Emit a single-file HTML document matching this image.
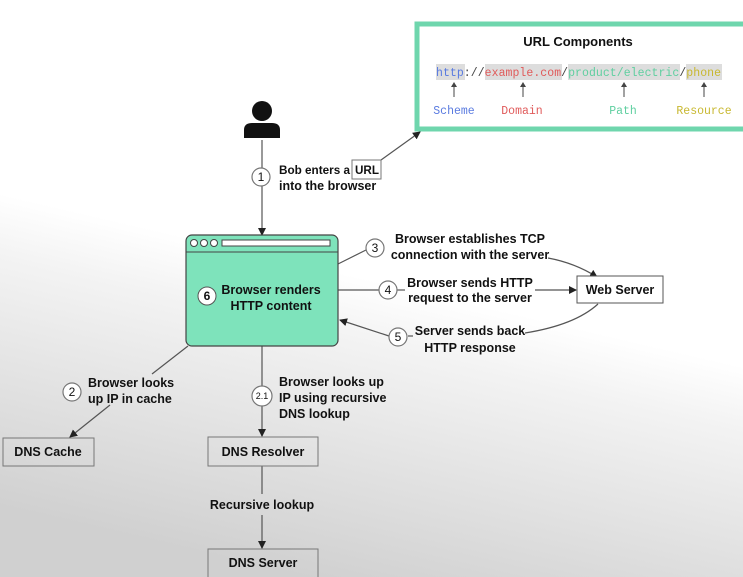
<!DOCTYPE html>
<html><head><meta charset="utf-8"><style>
html,body{margin:0;padding:0;width:743px;height:577px;overflow:hidden}
text{font-family:"Liberation Sans",sans-serif;font-weight:bold;fill:#111}
.m{font-family:"Liberation Mono",monospace;font-weight:normal;font-size:11.5px}
</style></head><body>
<svg width="743" height="577" viewBox="0 0 743 577" xmlns="http://www.w3.org/2000/svg">
<defs>
<linearGradient id="bg" x1="0.55" y1="0.5" x2="0.4" y2="1">
<stop offset="0" stop-color="#ffffff"/><stop offset="0.2" stop-color="#f3f3f3"/><stop offset="1" stop-color="#d0d0d0"/>
</linearGradient>
<marker id="a" markerWidth="8" markerHeight="8" refX="7" refY="4" orient="auto" markerUnits="userSpaceOnUse">
<path d="M0,0 L8,4 L0,8 z" fill="#222"/></marker>
</defs>
<rect width="743" height="577" fill="url(#bg)"/>
<g stroke="#555" stroke-width="1.2" fill="none">
<line x1="262" y1="140" x2="262" y2="235" marker-end="url(#a)"/>
<line x1="381" y1="160" x2="420" y2="132" marker-end="url(#a)"/>
<line x1="338" y1="264" x2="366" y2="250"/>
<path d="M548,258 Q575,263 597,277" marker-end="url(#a)"/>
<line x1="338" y1="290" x2="379" y2="290"/>
<line x1="397" y1="290" x2="405" y2="290"/>
<line x1="535" y1="290" x2="576" y2="290" marker-end="url(#a)"/>
<path d="M598,304 Q575,325 525,333"/>
<line x1="408" y1="336" x2="413" y2="336"/>
<line x1="389" y1="336" x2="340" y2="320" marker-end="url(#a)"/>
<line x1="188" y1="346" x2="152" y2="374"/>
<line x1="110" y1="405" x2="70" y2="437" marker-end="url(#a)"/>
<line x1="262" y1="345" x2="262" y2="436" marker-end="url(#a)"/>
<line x1="262" y1="466" x2="262" y2="494"/>
<line x1="262" y1="515" x2="262" y2="548" marker-end="url(#a)"/>
</g>
<rect x="417" y="24" width="340" height="105" fill="#fff" stroke="#6fd6ad" stroke-width="5"/>
<text x="578" y="46" font-size="13" text-anchor="middle">URL Components</text>
<rect x="436" y="64" width="29" height="16" fill="#ddd"/>
<rect x="485" y="64" width="77" height="16" fill="#ddd"/>
<rect x="568" y="64" width="112" height="16" fill="#ddd"/>
<rect x="686" y="64" width="36" height="16" fill="#ddd"/>
<text x="436" y="76" class="m" textLength="285" lengthAdjust="spacing"><tspan fill="#5a7be0">http</tspan><tspan fill="#444">://</tspan><tspan fill="#e05a5a">example.com</tspan><tspan fill="#444">/</tspan><tspan fill="#5fcfa0">product/electric</tspan><tspan fill="#444">/</tspan><tspan fill="#c8b830">phone</tspan></text>
<g stroke="#444" stroke-width="1"><line x1="454" y1="97" x2="454" y2="84"/><line x1="523" y1="97" x2="523" y2="84"/><line x1="624" y1="97" x2="624" y2="84"/><line x1="704" y1="97" x2="704" y2="84"/></g>
<path d="M451,87 L454,82 L457,87z M520,87 L523,82 L526,87z M621,87 L624,82 L627,87z M701,87 L704,82 L707,87z" fill="#444"/>
<g text-anchor="middle">
<text x="454" y="114" class="m" style="fill:#5a7be0">Scheme</text>
<text x="522" y="114" class="m" style="fill:#e05a5a">Domain</text>
<text x="623" y="114" class="m" style="fill:#5fcfa0">Path</text>
<text x="704" y="114" class="m" style="fill:#c8b830">Resource</text>
</g>
<circle cx="262" cy="111" r="10" fill="#111"/>
<path d="M244,138 L244,130 Q244,123 252,123 L272,123 Q280,123 280,130 L280,138 z" fill="#111"/>
<g fill="#fff" stroke="#777" stroke-width="1.2">
<circle cx="261" cy="177" r="9"/><circle cx="375" cy="248" r="9"/><circle cx="388" cy="290" r="9"/><circle cx="398" cy="337" r="9"/><circle cx="72" cy="392" r="9"/><circle cx="262" cy="396" r="10"/>
</g>
<g font-size="12" text-anchor="middle">
<text x="261" y="181" style="font-weight:normal">1</text><text x="375" y="252" style="font-weight:normal">3</text><text x="388" y="294" style="font-weight:normal">4</text><text x="398" y="341" style="font-weight:normal">5</text><text x="72" y="396" style="font-weight:normal">2</text><text x="262" y="399" font-size="9" style="font-weight:normal">2.1</text>
</g>
<rect x="352" y="160" width="29" height="19" fill="#fff" stroke="#777"/>
<g font-size="12">
<text x="279" y="174" textLength="71" lengthAdjust="spacingAndGlyphs">Bob enters a</text><text x="355" y="174" textLength="24" lengthAdjust="spacingAndGlyphs">URL</text>
<text x="279" y="190" font-size="12.5">into the browser</text>
</g>
<rect x="186" y="235" width="152" height="111" rx="6" fill="#7ee3bb" stroke="#444" stroke-width="1.2"/>
<line x1="186" y1="252" x2="338" y2="252" stroke="#444"/>
<g fill="#fff" stroke="#444"><circle cx="194" cy="243" r="3.5"/><circle cx="204" cy="243" r="3.5"/><circle cx="214" cy="243" r="3.5"/><rect x="222" y="240" width="108" height="6"/></g>
<circle cx="207" cy="296" r="9" fill="#fff" stroke="#555"/>
<text x="207" y="300" font-size="12" text-anchor="middle">6</text>
<g font-size="12.5" text-anchor="middle"><text x="271" y="294">Browser renders</text><text x="271" y="310">HTTP content</text>
<text x="470" y="243">Browser establishes TCP</text><text x="470" y="259">connection with the server</text>
<text x="470" y="287">Browser sends HTTP</text><text x="470" y="302">request to the server</text>
<text x="470" y="335">Server sends back</text><text x="470" y="352">HTTP response</text>
<text x="262" y="509">Recursive lookup</text>
</g>
<g font-size="12.5"><text x="88" y="387">Browser looks</text><text x="88" y="403">up IP in cache</text>
<text x="279" y="386">Browser looks up</text><text x="279" y="402">IP using recursive</text><text x="279" y="418">DNS lookup</text></g>
<rect x="577" y="276" width="86" height="27" fill="#fff" stroke="#555"/>
<g fill="none" stroke="#777" stroke-width="1">
<rect x="3" y="438" width="91" height="28"/><rect x="208" y="437" width="110" height="29"/><rect x="208" y="549" width="110" height="30"/>
</g>
<g font-size="12.5" text-anchor="middle"><text x="620" y="294">Web Server</text><text x="48" y="456">DNS Cache</text><text x="263" y="456">DNS Resolver</text><text x="263" y="567">DNS Server</text></g>
</svg>
</body></html>
